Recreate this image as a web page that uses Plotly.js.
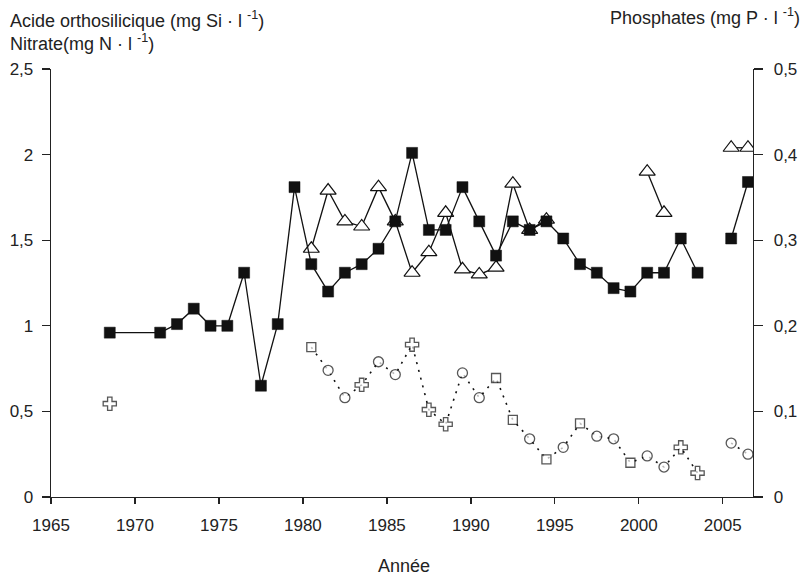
<!DOCTYPE html>
<html>
<head>
<meta charset="utf-8">
<script src="https://cdn.plot.ly/plotly-3.0.1.min.js"></script>
<style>html,body{margin:0;padding:0;background:#fff;}#chart{width:810px;height:576px;}</style>
</head>
<body>
<div id="chart"></div>
<script>
// Years (mid-year sampling)
const yearsSquares = [1968.5, 1971.5, 1972.5, 1973.5, 1974.5, 1975.5, 1976.5, 1977.5, 1978.5, 1979.5,
  1980.5, 1981.5, 1982.5, 1983.5, 1984.5, 1985.5, 1986.5, 1987.5, 1988.5, 1989.5,
  1990.5, 1991.5, 1992.5, 1993.5, 1994.5, 1995.5, 1996.5, 1997.5, 1998.5, 1999.5,
  2000.5, 2001.5, 2002.5, 2003.5, 2004.5, 2005.5, 2006.5];
const valuesSquares = [0.96, 0.96, 1.01, 1.10, 1.00, 1.00, 1.31, 0.65, 1.01, 1.81,
  1.36, 1.20, 1.31, 1.36, 1.45, 1.61, 2.01, 1.56, 1.56, 1.81,
  1.61, 1.41, 1.61, 1.56, 1.61, 1.51, 1.36, 1.31, 1.22, 1.20,
  1.31, 1.31, 1.51, 1.31, null, 1.51, 1.84];

const yearsTriangles = [1980.5, 1981.5, 1982.5, 1983.5, 1984.5, 1985.5, 1986.5, 1987.5, 1988.5, 1989.5,
  1990.5, 1991.5, 1992.5, 1993.5, 1994.5, 1997.5, 2000.5, 2001.5, 2003.5, 2005.5, 2006.5];
const valuesTriangles = [1.45, 1.79, 1.61, 1.58, 1.81, 1.61, 1.31, 1.43, 1.66, 1.33,
  1.30, 1.34, 1.83, 1.56, 1.62, null, 1.90, 1.66, null, 2.04, 2.04];

const yearsPhosphates = [1968.5, 1974.5, 1980.5, 1981.5, 1982.5, 1983.5, 1984.5, 1985.5, 1986.5, 1987.5, 1988.5,
  1989.5, 1990.5, 1991.5, 1992.5, 1993.5, 1994.5, 1995.5, 1996.5, 1997.5, 1998.5,
  1999.5, 2000.5, 2001.5, 2002.5, 2003.5, 2004.5, 2005.5, 2006.5];
const valuesPhosphates = [0.109, null, 0.175, 0.148, 0.116, 0.131, 0.158, 0.143, 0.178, 0.102, 0.085,
  0.145, 0.116, 0.139, 0.090, 0.068, 0.044, 0.058, 0.086, 0.071, 0.068,
  0.040, 0.048, 0.035, 0.058, 0.028, null, 0.063, 0.050];
// marker kind per phosphate point: sq = square, el = ellipse, cr = cross
const kindsPhosphates = ['cr', '', 'sq', 'el', 'el', 'cr', 'el', 'el', 'cr', 'cr', 'cr',
  'el', 'el', 'sq', 'sq', 'el', 'sq', 'el', 'sq', 'el', 'el',
  'sq', 'el', 'el', 'cr', 'cr', '', 'el', 'el'];

const xTickVals = [1965, 1970, 1975, 1980, 1985, 1990, 1995, 2000, 2005];
const yTickVals = [0, 0.5, 1, 1.5, 2, 2.5];
const y2TickVals = [0, 0.1, 0.2, 0.3, 0.4, 0.5];

const symMap = {sq: 'square', el: 'circle', cr: 'cross', '': 'circle'};
const sizeMap = {sq: 9, el: 10, cr: 11, '': 0};

const FONT = '"Liberation Sans", Arial, Helvetica, sans-serif';

const traces = [
  {
    x: yearsPhosphates, y: valuesPhosphates, yaxis: 'y2', type: 'scatter', mode: 'lines+markers',
    line: {color: '#111', width: 1.6, dash: '2px,6px'},
    marker: {symbol: kindsPhosphates.map(k => symMap[k]), size: kindsPhosphates.map(k => sizeMap[k]),
      color: '#fff', line: {color: '#111', width: 1.3}},
    hoverinfo: 'x+y'
  },
  {
    x: yearsTriangles, y: valuesTriangles, type: 'scatter', mode: 'lines+markers',
    line: {color: '#111', width: 1.3},
    marker: {symbol: 'triangle-up', size: 14, color: '#fff', line: {color: '#111', width: 1.2}}
  },
  {
    x: yearsSquares, y: valuesSquares, type: 'scatter', mode: 'lines+markers',
    line: {color: '#111', width: 1.3},
    marker: {symbol: 'square', size: 11, color: '#111', line: {color: '#111', width: 0.5}}
  }
];

const axisCommon = {
  showgrid: false, zeroline: false, showline: true, linecolor: '#222', linewidth: 1.3,
  ticks: 'outside', tickcolor: '#222', tickwidth: 1.3,
  tickfont: {family: FONT, size: 17, color: '#222'}
};

const layout = {
  width: 810, height: 576,
  margin: {l: 51, r: 57, t: 69, b: 79, pad: 0},
  paper_bgcolor: '#fff', plot_bgcolor: '#fff',
  separators: ', ',
  showlegend: false,
  font: {family: FONT, size: 17, color: '#222'},
  xaxis: Object.assign({}, axisCommon, {
    range: [1965, 2006.8], tickmode: 'array', tickvals: xTickVals,
    ticktext: xTickVals.map(String), ticklen: 6, ticklabelstandoff: 6
  }),
  yaxis: Object.assign({}, axisCommon, {
    range: [0, 2.5], tickmode: 'array', tickvals: yTickVals, ticklen: 8, ticklabelstandoff: 5
  }),
  yaxis2: Object.assign({}, axisCommon, {
    range: [0, 0.5], overlaying: 'y', side: 'right', tickmode: 'array', tickvals: y2TickVals,
    ticklen: 9, ticklabelstandoff: 7
  }),
  annotations: [
    {text: 'Acide orthosilicique (mg Si · l <sup>-1</sup>)', xref: 'paper', yref: 'paper',
      x: -0.0613, y: 1.116, xanchor: 'left', yanchor: 'middle', showarrow: false,
      font: {family: FONT, size: 18, color: '#222'}},
    {text: 'Nitrate(mg N · l <sup>-1</sup>)', xref: 'paper', yref: 'paper',
      x: -0.0613, y: 1.062, xanchor: 'left', yanchor: 'middle', showarrow: false,
      font: {family: FONT, size: 18, color: '#222'}},
    {text: 'Phosphates (mg P · l <sup>-1</sup>)', xref: 'paper', yref: 'paper',
      x: 1.07, y: 1.123, xanchor: 'right', yanchor: 'middle', showarrow: false,
      font: {family: FONT, size: 18, color: '#222'}},
    {text: 'Année', xref: 'paper', yref: 'paper',
      x: 0.503, y: -0.161, xanchor: 'center', yanchor: 'middle', showarrow: false,
      font: {family: FONT, size: 18, color: '#222'}}
  ]
};

Plotly.newPlot('chart', traces, layout, {staticPlot: true, displayModeBar: false});
</script>
</body>
</html>
